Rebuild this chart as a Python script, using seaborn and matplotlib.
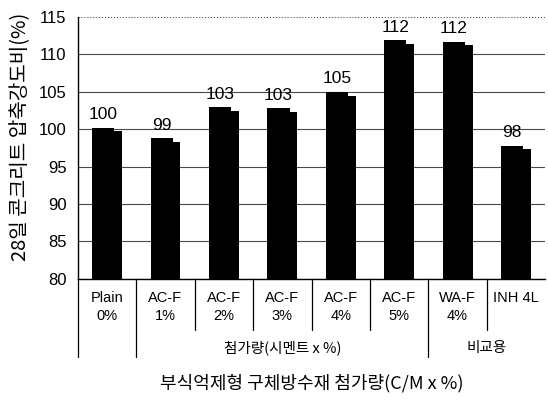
import pandas as pd
import matplotlib
matplotlib.use("Agg")
import matplotlib.pyplot as plt
import matplotlib.transforms as mtransforms
import seaborn as sns

# data
names = ["Plain", "AC-F", "AC-F", "AC-F", "AC-F", "AC-F", "WA-F", "INH 4L"]
dosages = ["0%", "1%", "2%", "3%", "4%", "5%", "4%", ""]
strength = [100.2, 98.8, 102.9, 102.8, 105.0, 111.9, 111.7, 97.8]
shown = ["100", "99", "103", "103", "105", "112", "112", "98"]
groups = ["첨가량(시멘트 x %)", "비교용"]
group_first = [1, 6]
group_last = [5, 7]

ylabel = "28일 콘크리트 압축강도비(%)"
xlabel = "부식억제형 구체방수재 첨가량(C/M x %)"

KR = ["Noto Sans CJK KR", "DejaVu Sans"]
NUM = ["Liberation Sans Narrow", "Liberation Sans", "DejaVu Sans"]
LAT = ["Liberation Sans", "DejaVu Sans"]

sns.set_style("white")
plt.rcParams["font.family"] = KR
plt.rcParams["text.color"] = "black"
plt.rcParams["xtick.color"] = "black"
plt.rcParams["ytick.color"] = "black"

df = pd.DataFrame({
    "label": [f"{n}\n{d}" for n, d in zip(names, dosages)],
    "strength": strength,
})
step = 0.5
df["shadow"] = df["strength"] - step

fig = plt.figure(figsize=(5.48, 4.03), dpi=100)
ax = fig.add_axes([0.142, 0.308, 0.853, 0.650])

# back face (slightly lower) gives the scanned 3-D look
sns.barplot(df, x="label", y="shadow", color="black", width=0.51,
            saturation=1, linewidth=0, ax=ax, zorder=2)
n_back = len(ax.patches)
sns.barplot(df, x="label", y="strength", color="black", width=0.38,
            saturation=1, linewidth=0, ax=ax, zorder=3)
front = ax.containers[-1]
for p in ax.patches[n_back:]:
    p.set_x(p.get_x() - (0.51 - 0.38) / 2)

ax.bar_label(front, labels=shown, padding=4, fontsize=12.5, family=NUM,
             color="black")

ax.set_ylim(80, 115)
ax.set_yticks(range(80, 116, 5))
ax.set_xlim(-0.5, len(names) - 0.5)
ax.set_xlabel("")
ax.set_ylabel("")

ax.set_axisbelow(True)
ax.yaxis.grid(True, color="#4a4a4a", lw=0.8)
for t in ax.yaxis.get_gridlines()[-1:]:
    t.set_linestyle(":")
ax.spines["right"].set_visible(False)
ax.spines["top"].set_visible(False)
ax.spines["left"].set_color("black")
ax.spines["bottom"].set_color("black")
ax.spines["left"].set_linewidth(1.0)
ax.spines["bottom"].set_linewidth(1.0)

ax.tick_params(axis="y", length=0, pad=8, labelsize=12)
ax.tick_params(axis="x", length=0, pad=9, labelsize=10.5)
for lab in ax.get_yticklabels():
    lab.set_family(NUM)
for lab in ax.get_xticklabels():
    lab.set_family(LAT)
    lab.set_linespacing(1.35)

# category dividers under the axis
trans = mtransforms.blended_transform_factory(ax.transData, ax.transAxes)
long_at = [-0.5] + [g - 0.5 for g in group_first]
for i in range(len(names)):
    x = i - 0.5
    y_end = -0.30 if x in long_at else -0.195
    ax.plot([x, x], [0, y_end], color="black", lw=0.9,
            transform=trans, clip_on=False)

for g, a, b in zip(groups, group_first, group_last):
    ax.text((a + b) / 2, -0.263, g, transform=trans, ha="center",
            va="center", fontsize=10.5)

fig.text(0.568, 0.05, xlabel, ha="center", va="center", fontsize=13)
fig.text(0.037, 0.66, ylabel, ha="center", va="center", rotation=90,
         fontsize=14.5)

fig.savefig("out.png", dpi=100, facecolor="white")
